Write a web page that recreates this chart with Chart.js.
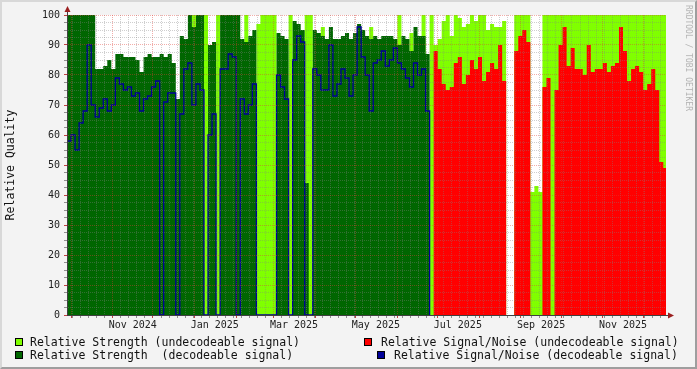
<!DOCTYPE html>
<html>
<head>
<meta charset="utf-8">
<script src="https://cdn.jsdelivr.net/npm/chart.js@4.4.1/dist/chart.umd.min.js"></script>
<style>
  html, body { margin: 0; padding: 0; background: #f3f3f3; }
  #frame { position: relative; width: 697px; height: 369px; overflow: hidden; font-family: "DejaVu Sans Mono", monospace; }
  #chart { position: absolute; left: 0; top: 0; }
  #edge { position: absolute; left: 0; top: 0; width: 697px; height: 369px; box-sizing: border-box;
          border-style: solid; border-width: 2px; border-color: #d8d8d8 #9e9e9e #9e9e9e #d8d8d8; pointer-events: none; }
  .lg { position: absolute; font-size: 11.5px; color: #111; white-space: pre; line-height: 14px; }
  .box { position: absolute; width: 6px; height: 6px; border: 1px solid #000; }
  #mark { position: absolute; left: 684px; top: 5px; font-size: 8px; color: #b4b4b4; white-space: pre;
          transform-origin: 0 0; transform: translate(9px, 0) rotate(90deg); }
</style>
</head>
<body>
<div id="frame">
  <canvas id="chart" width="697" height="369"></canvas>
  <div id="mark">RRDTOOL / TOBI OETIKER</div>
  <div class="box" style="left:15px;top:338px;background:#80ff00"></div>
  <div class="lg" style="left:30px;top:335px">Relative Strength (undecodeable signal)</div>
  <div class="box" style="left:15px;top:351px;background:#006600"></div>
  <div class="lg" style="left:30px;top:348px">Relative Strength  (decodeable signal)</div>
  <div class="box" style="left:364px;top:338px;background:#ff0000"></div>
  <div class="lg" style="left:381px;top:335px">Relative Signal/Noise (undecodeable signal)</div>
  <div class="box" style="left:377px;top:351px;background:#000098"></div>
  <div class="lg" style="left:394px;top:348px">Relative Signal/Noise (decodeable signal)</div>
  <div id="edge"></div>
</div>
<script>
// time range of the graph, one sample every BIN_DAYS days
const START = Date.UTC(2024, 8, 28);
const DAY = 86400000;
const BIN_DAYS = 3;
const SPAN_DAYS = 446;

const tickLabels = ['Nov 2024', 'Jan 2025', 'Mar 2025', 'May 2025', 'Jul 2025', 'Sep 2025', 'Nov 2025'];
const tickLabelDates = ['2024-11-16', '2025-01-16', '2025-03-16', '2025-05-16', '2025-07-16', '2025-09-16', '2025-11-16'];

// Relative Strength (undecodeable signal), null = no data
const strengthUndec = [
  0, 0, 0, 0, 0, 0, 0, 0, 0, 0, 0, 0, 0, 0, 0, 0, 0, 0, 0, 0,
  0, 0, 0, 0, 0, 0, 0, 0, 0, 0, 0, 100, 0, 0, 100, 0, 0, 100, 0, 0,
  0, 0, 0, 0, 100, 0, 0, 97, 100, 100, 100, 100, 0, 0, 0, 100, 0, 0, 0, 100,
  100, 0, 0, 96, 0, 0, 0, 0, 0, 0, 0, 0, 0, 0, 0, 96, 0, 0, 0, 0,
  0, 0, 100, 0, 0, 94, 0, 0, 100, 0, 100, 90, 92, 98, 100, 93, 100, 99, 96, 97,
  100, 98, 100, 100, 95, 97, 96, 96, 98, null, null, 100, 100, 100, 100, 41, 43, 41, 100, 100,
  100, 100, 100, 100, 100, 100, 100, 100, 100, 100, 100, 100, 100, 100, 100, 100, 100, 100, 100, 100,
  100, 100, 100, 100, 100, 100, 100, 100, 100
];

// Relative Signal/Noise (undecodeable signal)
const snrUndec = [
  0, 0, 0, 0, 0, 0, 0, 0, 0, 0, 0, 0, 0, 0, 0, 0, 0, 0, 0, 0,
  0, 0, 0, 0, 0, 0, 0, 0, 0, 0, 0, 0, 0, 0, 0, 0, 0, 0, 0, 0,
  0, 0, 0, 0, 0, 0, 0, 0, 0, 0, 0, 0, 0, 0, 0, 0, 0, 0, 0, 0,
  0, 0, 0, 0, 0, 0, 0, 0, 0, 0, 0, 0, 0, 0, 0, 0, 0, 0, 0, 0,
  0, 0, 0, 0, 0, 0, 0, 0, 0, 0, 0, 88, 82, 77, 75, 76, 84, 86, 77, 80,
  85, 82, 86, 78, 81, 84, 82, 90, 78, null, null, 88, 93, 95, 91, 0, 0, 0, 76, 79,
  0, 75, 90, 96, 83, 89, 82, 82, 80, 90, 81, 82, 82, 84, 81, 83, 84, 96, 88, 78,
  82, 83, 81, 75, 77, 82, 75, 51, 49
];

// Relative Strength (decodeable signal)
const strengthDec = [
  100, 100, 100, 100, 100, 100, 100, 82, 82, 83, 85, 82, 87, 87, 86, 86, 86, 85, 81, 86,
  87, 86, 86, 87, 86, 87, 84, 72, 93, 92, 100, 96, 100, 100, 0, 90, 91, 0, 100, 100,
  100, 100, 100, 92, 91, 93, 95, 0, 0, 0, 0, 0, 94, 93, 92, 0, 98, 97, 95, 44,
  0, 95, 94, 93, 92, 96, 92, 92, 93, 94, 92, 94, 97, 95, 93, 92, 93, 92, 93, 93,
  93, 92, 90, 93, 92, 88, 96, 93, 93, 87, 0, 0, 0, 0, 0, 0, 0, 0, 0, 0,
  0, 0, 0, 0, 0, 0, 0, 0, 0, null, null, 0, 0, 0, 0, 0, 0, 0, 0, 0,
  0, 0, 0, 0, 0, 0, 0, 0, 0, 0, 0, 0, 0, 0, 0, 0, 0, 0, 0, 0,
  0, 0, 0, 0, 0, 0, 0, 0, 0
];

// Relative Signal/Noise (decodeable signal)
const snrDec = [
  58, 60, 55, 64, 68, 90, 70, 66, 69, 72, 68, 70, 79, 77, 75, 76, 73, 74, 68, 72,
  73, 76, 78, 0, 71, 74, 74, 0, 67, 82, 84, 70, 77, 75, 0, 60, 67, 0, 82, 82,
  87, 86, 0, 72, 67, 70, 77, 0, 0, 0, 0, 0, 80, 76, 72, 0, 85, 93, 91, 0,
  0, 82, 80, 75, 75, 90, 73, 77, 82, 79, 73, 80, 96, 86, 80, 68, 84, 85, 88, 83,
  85, 89, 84, 82, 79, 76, 84, 80, 82, 68, 0, null, null, null, null, null, null, null, null, null,
  null, null, null, null, null, null, null, null, null, null, null, null, null, null, null, null, null, null, null, null,
  null, null, null, null, null, null, null, null, null, null, null, null, null, null, null, null, null, null, null, null,
  null, null, null, null, null, null, null, null, null
];

const FONT = 'DejaVu Sans Mono';
const GRID = 'rgba(130,130,130,0.38)';
const MGRID = 'rgba(225,60,50,0.42)';

function dayOf(ms) { return (ms - START) / DAY; }

// stepped series: each sample holds its value until the next one
function steps(values, gapAsZero) {
  const pts = values.map((v, i) => ({ x: i * BIN_DAYS, y: (v === null && gapAsZero) ? 0 : v }));
  pts.push({ x: values.length * BIN_DAYS, y: pts[pts.length - 1].y });
  return pts;
}

// x axis grid: months (major), every 6 days (minor), labels mid-month
const monthStarts = [];
for (let m = 9; m <= 23; m++) monthStarts.push(dayOf(Date.UTC(2024, m, 1)));
const xTicks = [];
for (let d = 4; d < SPAN_DAYS; d += 6) {
  if (!monthStarts.some(s => Math.abs(s - d) < 1)) xTicks.push({ value: d, kind: 'minor' });
}
monthStarts.forEach(d => xTicks.push({ value: d, kind: 'major' }));
tickLabels.forEach((t, i) => xTicks.push({ value: dayOf(Date.parse(tickLabelDates[i])), kind: 'label', text: t }));
xTicks.sort((a, b) => a.value - b.value);

const canvasBack = {
  id: 'canvasBack',
  beforeDraw(chart) {
    const a = chart.chartArea, ctx = chart.ctx;
    ctx.save();
    ctx.fillStyle = '#ffffff';
    ctx.fillRect(a.left, a.top, a.right - a.left, a.bottom - a.top);
    ctx.restore();
  },
  afterDraw(chart) {
    const a = chart.chartArea, ctx = chart.ctx;
    ctx.save();
    ctx.strokeStyle = '#404040';
    ctx.lineWidth = 1;
    ctx.beginPath();
    ctx.moveTo(a.left + 0.5, a.top);
    ctx.lineTo(a.left + 0.5, a.top - 6);
    ctx.moveTo(a.right, a.bottom + 0.5);
    ctx.lineTo(a.right + 5, a.bottom + 0.5);
    ctx.stroke();
    ctx.fillStyle = '#9b2020';
    ctx.beginPath();
    ctx.moveTo(a.left + 0.5, a.top - 9);
    ctx.lineTo(a.left - 2.5, a.top - 3);
    ctx.lineTo(a.left + 3.5, a.top - 3);
    ctx.closePath();
    ctx.fill();
    ctx.beginPath();
    ctx.moveTo(a.right + 8, a.bottom + 0.5);
    ctx.lineTo(a.right + 2, a.bottom - 2.5);
    ctx.lineTo(a.right + 2, a.bottom + 3.5);
    ctx.closePath();
    ctx.fill();
    ctx.restore();
  }
};

const area = (label, values, color) => ({
  label: label,
  data: steps(values, true),
  borderColor: 'transparent',
  borderWidth: 0,
  backgroundColor: color,
  fill: 'origin',
  stepped: true,
  pointRadius: 0
});

new Chart(document.getElementById('chart').getContext('2d'), {
  type: 'line',
  data: {
    datasets: [
      {
        label: 'Relative Signal/Noise (decodeable signal)',
        data: steps(snrDec, false),
        borderColor: '#000098',
        borderWidth: 1.3,
        fill: false,
        stepped: true,
        spanGaps: false,
        pointRadius: 0
      },
      area('Relative Strength  (decodeable signal)', strengthDec, '#006600'),
      area('Relative Signal/Noise (undecodeable signal)', snrUndec, '#ff0000'),
      area('Relative Strength (undecodeable signal)', strengthUndec, '#80ff00')
    ]
  },
  options: {
    responsive: false,
    animation: false,
    events: [],
    layout: { padding: { left: 0, top: 15, right: 31, bottom: 0 } },
    scales: {
      x: {
        type: 'linear',
        min: 0,
        max: SPAN_DAYS,
        afterFit: s => { s.height = 54; },
        afterBuildTicks: s => { s.ticks = xTicks.map(t => Object.assign({}, t)); },
        ticks: {
          autoSkip: false,
          maxRotation: 0,
          padding: 1,
          color: '#222',
          font: { family: FONT, size: 10 },
          callback: (v, i, ticks) => ticks[i].text || ''
        },
        grid: {
          z: 1,
          color: c => c.tick && c.tick.kind === 'major' ? MGRID : (c.tick && c.tick.kind === 'minor' ? GRID : 'transparent'),
          tickColor: c => c.tick && c.tick.kind === 'major' ? '#c04040' : (c.tick && c.tick.kind === 'minor' ? '#909090' : 'transparent'),
          tickBorderDash: [],
          tickLength: 3
        },
        border: { display: true, color: '#404040', width: 1, dash: [1, 1], z: 2 }
      },
      y: {
        min: 0,
        max: 100,
        afterFit: s => { s.width = 67; },
        ticks: {
          stepSize: 2.5,
          autoSkip: false,
          padding: 4,
          color: '#222',
          font: { family: FONT, size: 10 },
          callback: v => (v % 10 === 0 ? v : '')
        },
        grid: {
          z: 1,
          color: c => (c.tick && c.tick.value % 10 === 0 ? MGRID : GRID),
          tickColor: c => (c.tick && c.tick.value % 10 === 0 ? '#c04040' : '#909090'),
          tickBorderDash: [],
          tickLength: 3
        },
        border: { display: true, color: '#404040', width: 1, dash: [1, 1], z: 2 },
        title: {
          display: true,
          text: 'Relative Quality',
          color: '#111',
          font: { family: FONT, size: 11.5 },
          padding: { top: 4, bottom: 0 }
        }
      }
    },
    plugins: {
      legend: { display: false },
      tooltip: { enabled: false }
    }
  },
  plugins: [canvasBack]
});
</script>
</body>
</html>
